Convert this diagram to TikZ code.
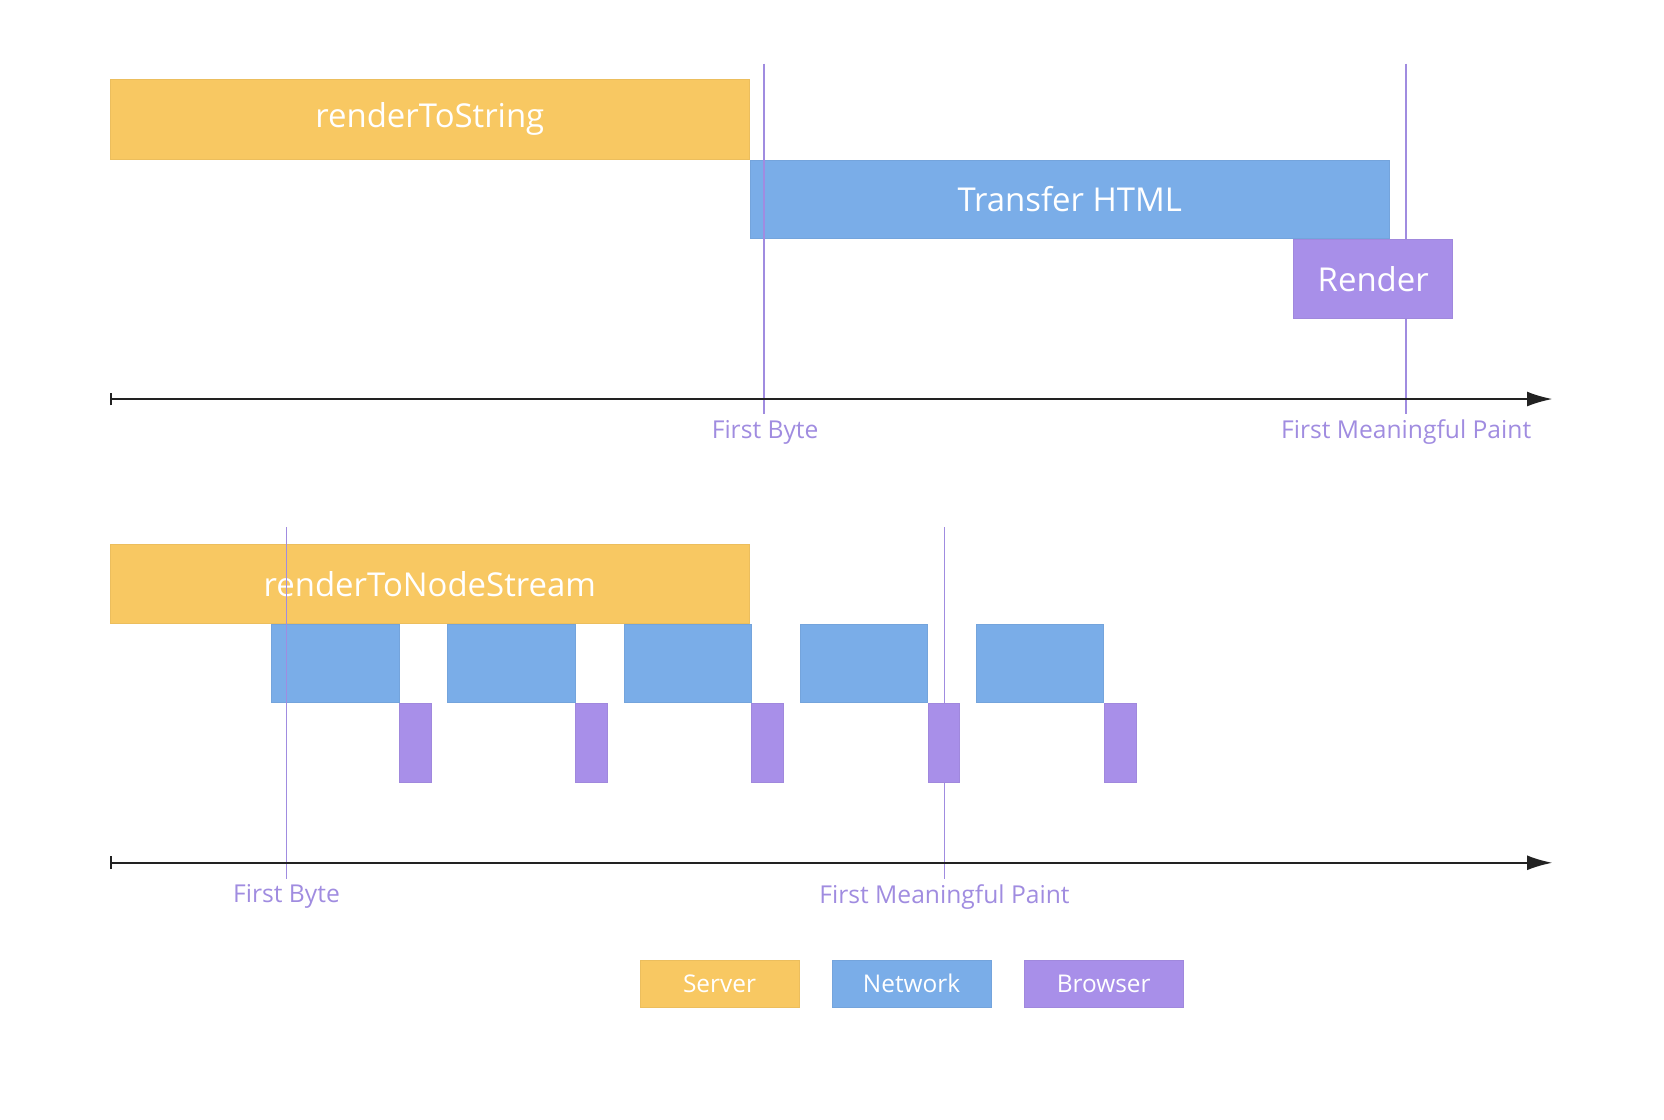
\documentclass[tikz,border=0pt]{standalone}
\usepackage{fontspec}
\setmainfont{Open Sans}
\usetikzlibrary{arrows.meta}

\definecolor{server}{HTML}{F8C862}
\definecolor{network}{HTML}{7AADE8}
\definecolor{browser}{HTML}{A88FE9}
\definecolor{marker}{HTML}{A08CE0}
\definecolor{axis}{HTML}{222222}

\tikzset{
    bar/.style={draw=#1!95!black, line width=0.4pt, fill=#1, inner sep=0pt,
        text=white, font=\fontsize{15.5}{18}\selectfont},
    key/.style={bar=#1, minimum width=75pt, minimum height=22pt,
        font=\fontsize{11.5}{13}\selectfont},
    mark line/.style={marker, line width=0.75pt},
    mark label/.style={text=marker, font=\fontsize{11.6}{13}\selectfont, inner sep=0pt},
    time axis/.style={axis, line width=1pt, {Bar[width=6pt]}-{Latex[length=12pt,width=7pt]}},
}

\begin{document}
\begin{tikzpicture}
    [
        x=0.5pt, y=-0.5pt,
    ]
    \useasboundingbox (0, 0) rectangle (1568, 1055);

    % renderToString
    \node [bar=server, minimum width=301pt, minimum height=37.5pt] (rts) at (405, 112.5) {renderToString};
    \node [bar=network, minimum width=301pt, minimum height=37pt] (html) at (1008, 188) {Transfer HTML};

    \coordinate (fb1 top) at (720, 60);
    \coordinate (fb1 bot) at (720, 390);
    \coordinate (fmp1 top) at (1325, 60);
    \coordinate (fmp1 bot) at (1325, 390);
    \draw [mark line] (fb1 top) -- (fb1 bot);
    \draw [mark line] (fmp1 top) -- (fmp1 bot);

    \node [bar=browser, minimum width=75pt, minimum height=37pt] (render) at (1294, 263) {Render};

    \coordinate (ax1 start) at (104, 376);
    \coordinate (ax1 end) at (1463, 376);
    \draw [time axis] (ax1 start) -- (ax1 end);
    \node [mark label] (fb1) at (721, 407) {First Byte};
    \node [mark label] (fmp1) at (1325, 407) {First Meaningful Paint};

    % renderToNodeStream
    \node [bar=server, minimum width=301pt, minimum height=37pt] (rtns) at (405, 550) {renderToNodeStream};
    \foreach \i in {1,...,5} {
        \node [bar=network, minimum width=60pt, minimum height=37pt] (net\i) at ({316 + 166*(\i-1)}, 625) {};
    }

    \coordinate (fb2 top) at (270, 497);
    \coordinate (fb2 bot) at (270, 828);
    \coordinate (fmp2 top) at (890, 497);
    \coordinate (fmp2 bot) at (890, 828);
    \draw [mark line] (fb2 top) -- (fb2 bot);
    \draw [mark line] (fmp2 top) -- (fmp2 bot);

    \foreach \i in {1,...,5} {
        \node [bar=browser, minimum width=15pt, minimum height=37pt] (brw\i) at ({391.5 + 166*(\i-1)}, 700) {};
    }

    \coordinate (ax2 start) at (104, 813);
    \coordinate (ax2 end) at (1463, 813);
    \draw [time axis] (ax2 start) -- (ax2 end);
    \node [mark label] (fb2) at (270, 845) {First Byte};
    \node [mark label] (fmp2) at (890, 845) {First Meaningful Paint};

    % legend
    \node [key=server] (k server) at (678, 927) {Server};
    \node [key=network] (k network) at (859, 927) {Network};
    \node [key=browser] (k browser) at (1040, 927) {Browser};

\end{tikzpicture}
\end{document}
